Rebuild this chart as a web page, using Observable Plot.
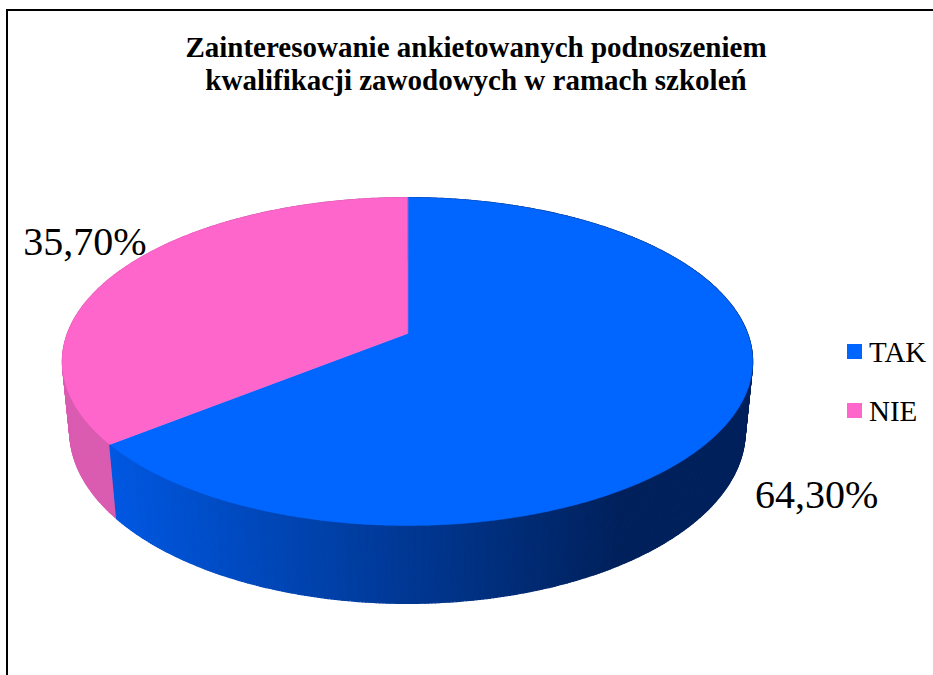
<!DOCTYPE html>
<html><head><meta charset="utf-8">
<script src="https://cdn.jsdelivr.net/npm/d3@7"></script>
<script src="https://cdn.jsdelivr.net/npm/@observablehq/plot@0.6"></script>
<style>
body{margin:0;background:#fff;overflow:hidden;width:933px;height:675px;position:relative;font-family:"Liberation Serif","Times New Roman",Times,"DejaVu Serif",serif;}
#frame{position:absolute;left:6px;top:9px;width:1000px;height:1000px;border:2px solid #000;}
#chart{position:absolute;left:0;top:0;}
#title{position:absolute;left:0;width:952px;top:31px;text-align:center;font-weight:bold;font-size:29px;line-height:33px;color:#000;}
.legsq{position:absolute;width:15px;height:15px;}
.legtx{position:absolute;font-size:29px;line-height:29px;color:#000;}
</style></head><body>
<div id="frame"></div>
<div id="chart"></div>
<div id="title">Zainteresowanie ankietowanych podnoszeniem<br>kwalifikacji zawodowych w ramach szkoleń</div>
<div id="legend"></div>
<script>
// ---- data ----
const categories = ["TAK", "NIE"];
const values = [64.3, 35.7];
const valueLabels = ["64,30%", "35,70%"];

// ---- styles ----
const topColors = ["#0066FF", "#FF66CC"];
const sideLight = ["#0059E4", "#DA5CB1"];
const sideDark = ["#00215C", "#B04A92"];
const FONT = "Liberation Serif, Times New Roman, Times, DejaVu Serif, serif";

// ---- 3D geometry (layout) ----
const CX = 407, CY = 333, F = 1758, D = 5.17, SIN = 0.468, COS = Math.sqrt(1 - SIN * SIN), H = 0.234;
function proj(X, Y, Z) {
  const yc = Y * COS - Z * SIN;
  const zc = Y * SIN + Z * COS;
  const w = D - zc;
  return [CX + F * X / w, CY - F * yc / w];
}
const rad = a => a * Math.PI / 180;
const unit = a => [Math.sin(rad(a)), -Math.cos(rad(a))]; // clockwise from far point

const total = d3.sum(values);
let acc = 0;
const slices = categories.map((c, i) => {
  const start = acc / total * 360;
  acc += values[i];
  const end = acc / total * 360;
  return {i, c, start, end, mid: (start + end) / 2};
});

function angles(a0, a1, step) {
  const out = [];
  for (let a = a0; a < a1 - 1e-9; a += step) out.push(a);
  out.push(a1);
  return out;
}

// side quads
const quads = [];
for (const s of slices) {
  const as = angles(s.start, s.end, 0.5);
  for (let k = 0; k < as.length - 1; k++) {
    const a0 = as[k], a1 = as[k + 1];
    const [x0, z0] = unit(a0), [x1, z1] = unit(a1);
    const pts = [proj(x0, 0, z0), proj(x1, 0, z1), proj(x1, -H, z1), proj(x0, -H, z0)];
    const xm = (pts[0][0] + pts[1][0]) / 2;
    const t = Math.max(0, Math.min(1, (xm - 100) / 520));
    const color = d3.interpolateRgb(sideLight[s.i], sideDark[s.i])(t);
    const depth = (z0 + z1) / 2;
    quads.push({id: `side-${s.i}-${k}`, pts, color, depth});
  }
}
quads.sort((a, b) => a.depth - b.depth);
const sideRows = quads.flatMap(q => q.pts.map(p => ({id: q.id, x: p[0], y: p[1], color: q.color})));

// top faces
const topRows = slices.flatMap(s => {
  const c = proj(0, 0, 0);
  const rows = [{id: "top-" + s.i, x: c[0], y: c[1], color: topColors[s.i]}];
  for (const a of angles(s.start, s.end, 0.5)) {
    const [X, Z] = unit(a);
    const p = proj(X, 0, Z);
    rows.push({id: "top-" + s.i, x: p[0], y: p[1], color: topColors[s.i]});
  }
  return rows;
});

// label anchors
const labelRows = slices.map(s => {
  const [X, Z] = unit(s.mid);
  const p = proj(1.15 * X, 0, 1.15 * Z);
  return {i: s.i, x: p[0], y: p[1], text: valueLabels[s.i]};
});

const chart = Plot.plot({
  width: 933, height: 675, margin: 0,
  x: {domain: [0, 933], range: [0, 933], axis: null},
  y: {domain: [0, 675], range: [0, 675], axis: null},
  color: {type: "identity"},
  style: {background: "transparent"},
  marks: [
    Plot.line(sideRows, {x: "x", y: "y", z: "id", fill: "color", stroke: "color", strokeWidth: 1.2, curve: "linear-closed"}),
    Plot.line(topRows, {x: "x", y: "y", z: "id", fill: "color", stroke: "color", strokeWidth: 0.6, curve: "linear-closed"}),
    Plot.text(labelRows.filter(d => d.i === 0), {x: "x", y: "y", text: "text", dx: 24, dy: 75, fontSize: 40, fontFamily: FONT, fill: "#000"}),
    Plot.text(labelRows.filter(d => d.i === 1), {x: "x", y: "y", text: "text", dx: 2, dy: -18, fontSize: 40, fontFamily: FONT, fill: "#000"})
  ]
});
document.getElementById("chart").appendChild(chart);

// legend
const leg = document.getElementById("legend");
categories.forEach((c, i) => {
  const sq = document.createElement("div");
  sq.className = "legsq";
  sq.style.left = "847px"; sq.style.top = (344 + i * 59) + "px"; sq.style.background = topColors[i];
  const tx = document.createElement("div");
  tx.className = "legtx";
  tx.style.left = "869px"; tx.style.top = (338 + i * 59) + "px";
  tx.textContent = c;
  leg.appendChild(sq); leg.appendChild(tx);
});
</script>
</body></html>
